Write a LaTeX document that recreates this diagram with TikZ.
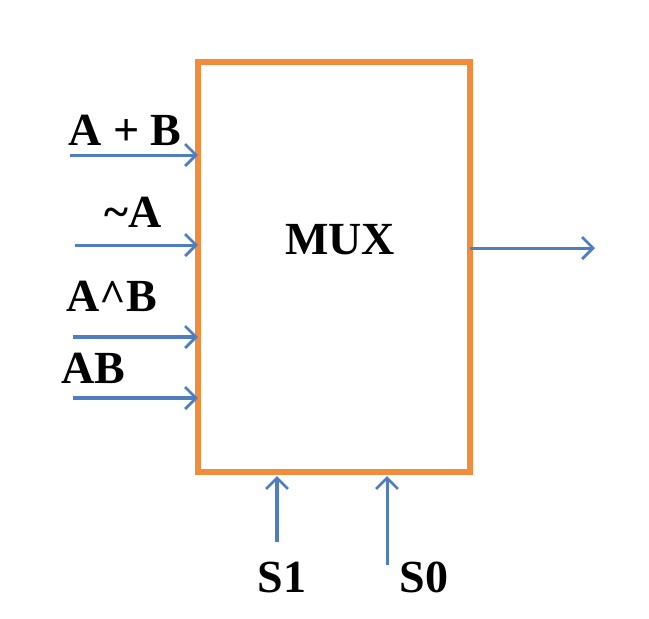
\documentclass[tikz,border=0pt]{standalone}
\usepackage{fontspec}
\setmainfont{Liberation Serif}
\usetikzlibrary{arrows.meta}
\definecolor{boxorange}{RGB}{240,140,60}
\definecolor{wireblue}{RGB}{80,125,190}
\begin{document}
\begin{tikzpicture}[x=1pt,y=-1pt,
  wire/.style={draw=wireblue,line width=3pt,-{Straight Barb[length=11pt,width=22pt,line width=2.8pt]}},
  thickwire/.style={wire,line width=4pt},
  lbl/.style={font=\fontsize{46}{54}\selectfont\bfseries,inner sep=0pt}]
\useasboundingbox (0,0) rectangle (649,619);
\node[draw=boxorange,line width=6pt,minimum width=272pt,minimum height=410pt,inner sep=0pt] (mux) at (334,267) {};
\node[lbl] (muxl) at (340,240) {MUX};
\coordinate (i1s) at (70,155); \coordinate (i1e) at (198,155);
\coordinate (i2s) at (75,245); \coordinate (i2e) at (198,245);
\coordinate (i3s) at (73,337); \coordinate (i3e) at (198,337);
\coordinate (i4s) at (73,398); \coordinate (i4e) at (198,398);
\coordinate (os) at (470,248); \coordinate (oe) at (595,248);
\coordinate (s1s) at (277,542); \coordinate (s1e) at (277,476);
\coordinate (s0s) at (387,565); \coordinate (s0e) at (387,476);
\draw[wire] (i1s) -- (i1e);
\draw[wire] (i2s) -- (i2e);
\draw[thickwire] (i3s) -- (i3e);
\draw[thickwire] (i4s) -- (i4e);
\draw[wire] (os) -- (oe);
\draw[thickwire] (s1s) -- (s1e);
\draw[wire] (s0s) -- (s0e);
\node[lbl] (l1) at (125,130) {A + B};
\node[lbl] (l2) at (133,212) {\char"7E A};
\node[lbl] (l3) at (112,296) {A\char"5E B};
\node[lbl] (l4) at (93,368) {AB};
\node[lbl] (l5) at (282,577) {S1};
\node[lbl] (l6) at (424,577) {S0};
\end{tikzpicture}
\end{document}
